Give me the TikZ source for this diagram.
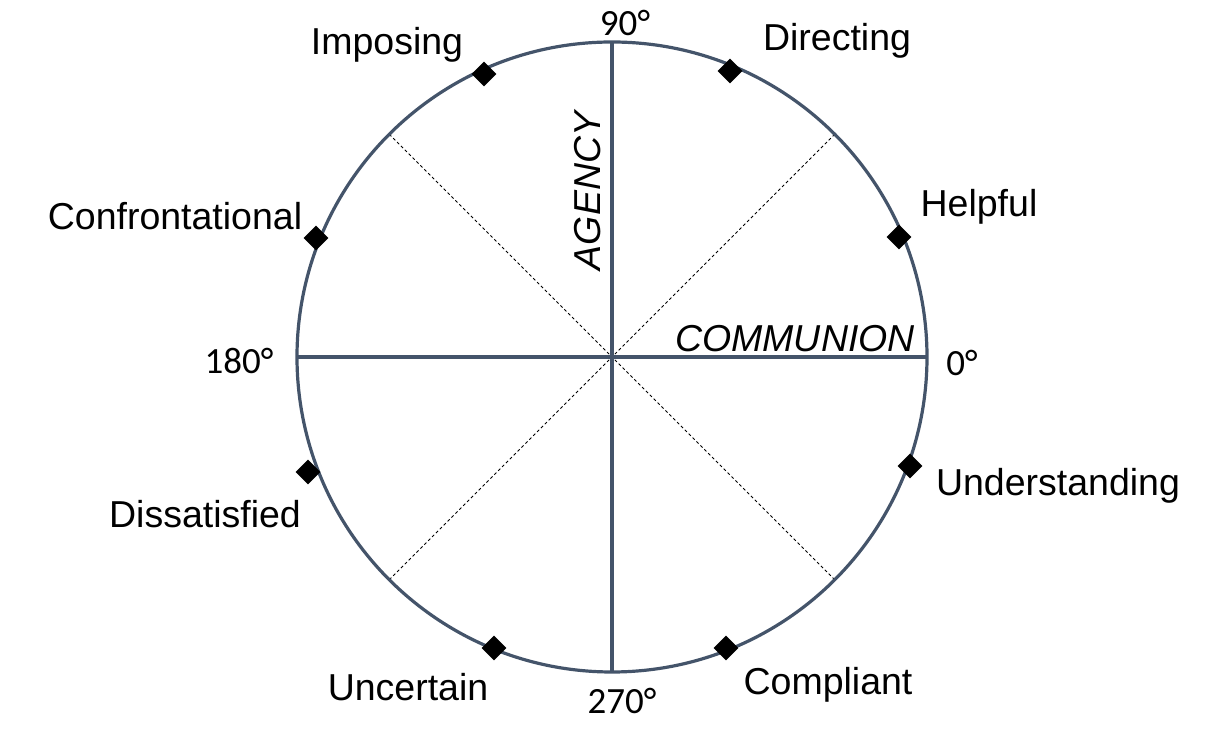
\documentclass[tikz,border=0pt]{standalone}
\usepackage{fontspec}
\setmainfont{Liberation Sans}
\newfontfamily\degfont{Carlito}
\usetikzlibrary{shapes.geometric,calc}
\definecolor{axiscol}{HTML}{44546A}
\tikzset{
  axisline/.style={draw=axiscol, line width=3.2pt},
  diagline/.style={draw=black, line width=0.8pt, dash pattern=on 3pt off 2.5pt},
  marker/.style={diamond, fill=black, inner sep=0pt, minimum size=25pt},
  lbl/.style={font=\fontsize{37.5}{44}\selectfont, inner sep=0pt},
  deglbl/.style={font=\degfont\fontsize{37}{44}\selectfont, inner sep=0pt},
}
\begin{document}
\begin{tikzpicture}[x=1pt,y=1pt]
\useasboundingbox (0,0) rectangle (1227,741);
\coordinate (c) at (612,384);
\def\R{315}
% dashed diagonals
\foreach \a in {45,135,225,315}{
  \coordinate (d\a) at ($(c)+(\a:\R)$);
}
\draw[diagline] (d45) -- (d225);
\draw[diagline] (d135) -- (d315);
% axes
\coordinate (e0) at ($(c)+(0:\R)$);
\coordinate (e90) at ($(c)+(90:\R)$);
\coordinate (e180) at ($(c)+(180:\R)$);
\coordinate (e270) at ($(c)+(270:\R)$);
\draw[axisline] (e0) -- (e180);
\draw[axisline] (e90) -- (e270);
\draw[axisline] (c) circle[radius=\R];
% markers
\node[marker] (mimp) at (484,667) {};
\node[marker] (mdir) at (730,670) {};
\node[marker] (mhelp) at (899,504) {};
\node[marker] (mund) at (910,275) {};
\node[marker] (mcomp) at (726,93) {};
\node[marker] (munc) at (494,93) {};
\node[marker] (mdiss) at (308,269) {};
\node[marker] (mconf) at (316,503) {};
% labels
\node[lbl] (limp) at (387,696) {Imposing};
\node[lbl] (ldir) at (837,700) {Directing};
\node[lbl] (lhelp) at (979,534) {Helpful};
\node[lbl] (lconf) at (175,525) {Confrontational};
\node[lbl] (lund) at (1058,255) {Understanding};
\node[lbl] (ldiss) at (205,227) {Dissatisfied};
\node[lbl] (lunc) at (408,54) {Uncertain};
\node[lbl] (lcomp) at (828,56) {Compliant};
\node[lbl, font=\fontsize{37.5}{44}\selectfont\itshape] (lcomm) at (795,402) {COMMUNION};
\node[lbl, font=\fontsize{37.5}{44}\selectfont\itshape, rotate=90] (lag) at (588,550) {AGENCY};
\node[deglbl] (l90) at (625,718) {90°};
\node[deglbl] (l0) at (962,378) {0°};
\node[deglbl] (l180) at (239,380) {180°};
\node[deglbl] (l270) at (622,40) {270°};
\end{tikzpicture}
\end{document}
